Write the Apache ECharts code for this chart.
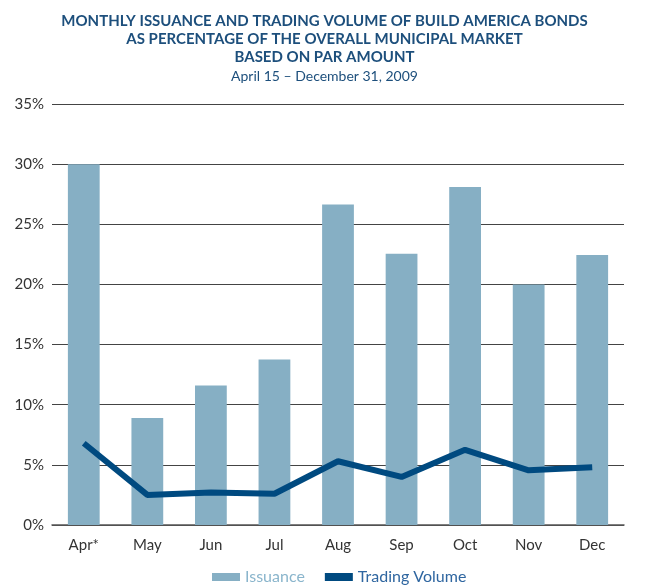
<!DOCTYPE html>
<html>
<head>
<meta charset="utf-8">
<script src="https://cdn.jsdelivr.net/npm/echarts@6/dist/echarts.min.js"></script>
<style>
	html, body { margin: 0; padding: 0; background: #fff; }
	#chart { width: 649px; height: 586px; }
</style>
</head>
<body>
<div id="chart"></div>
<script>
// months on the x axis
const months = ['Apr*', 'May', 'Jun', 'Jul', 'Aug', 'Sep', 'Oct', 'Nov', 'Dec'];
// issuance as % of overall municipal market
const issuance = [30.0, 8.9, 11.6, 13.75, 26.65, 22.55, 28.1, 20.0, 22.45];
// trading volume as % of overall municipal market
const tradingVolume = [6.8, 2.5, 2.7, 2.6, 5.3, 4.0, 6.25, 4.55, 4.8];

const barColor = '#86afc4';
const lineColor = '#004a80';
const fontFamily = 'Lato, "Open Sans", sans-serif';

const chart = echarts.init(document.getElementById('chart'));

const option = {
	animation: false,
	textStyle: { fontFamily: fontFamily },
	title: {
		text: 'MONTHLY ISSUANCE AND TRADING VOLUME OF BUILD AMERICA BONDS\nAS PERCENTAGE OF THE OVERALL MUNICIPAL MARKET\nBASED ON PAR AMOUNT',
		subtext: 'April 15 – December 31, 2009',
		left: 'center',
		top: 7,
		itemGap: 1,
		textStyle: {
			color: '#1d4f7c',
			fontSize: 15,
			fontWeight: 'bold',
			lineHeight: 18,
			fontFamily: fontFamily,
		},
		subtextStyle: {
			color: '#1d4f7c',
			fontSize: 14,
			lineHeight: 18,
			fontFamily: fontFamily,
		},
	},
	legend: {
		bottom: -4,
		left: 207,
		itemWidth: 28,
		itemHeight: 8,
		itemGap: 20,
		textStyle: { fontSize: 16, fontFamily: fontFamily },
		data: [
			{ name: 'Issuance', icon: 'rect', textStyle: { color: '#8ab5cc' } },
			{ name: 'Trading Volume', icon: 'rect', textStyle: { color: '#2f66a0' } },
		],
	},
	grid: {
		left: 52,
		right: 25,
		top: 104,
		bottom: 61,
	},
	xAxis: {
		type: 'category',
		data: months,
		axisLine: { lineStyle: { color: '#555', width: 1.5 } },
		axisTick: { show: false },
		axisLabel: { color: '#333', fontSize: 15, margin: 13 },
	},
	yAxis: {
		type: 'value',
		min: 0,
		max: 35,
		interval: 5,
		axisLine: { show: false },
		axisTick: { show: false },
		axisLabel: {
			color: '#333',
			fontSize: 15,
			margin: 8,
			formatter: '{value}%',
		},
		splitLine: { lineStyle: { color: '#444', width: 1.2 } },
	},
	series: [
		{
			name: 'Issuance',
			type: 'bar',
			data: issuance,
			barWidth: '50%',
			itemStyle: { color: barColor },
		},
		{
			name: 'Trading Volume',
			type: 'line',
			data: tradingVolume,
			symbol: 'none',
			itemStyle: { color: lineColor },
			lineStyle: { width: 6, color: lineColor },
		},
	],
};

chart.setOption(option);
</script>
</body>
</html>
